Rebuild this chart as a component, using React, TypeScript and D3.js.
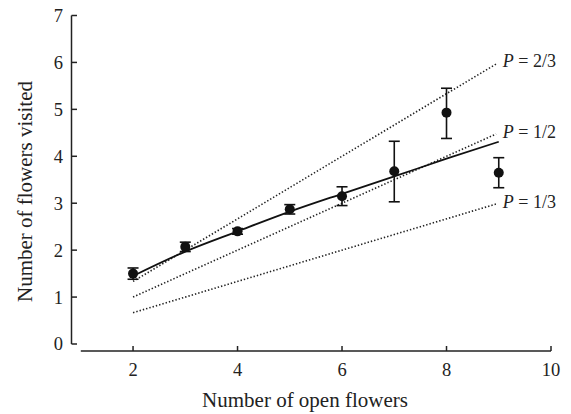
import React, { useEffect, useRef } from "react";
import * as d3 from "d3";

const xs = [2, 3, 4, 5, 6, 7, 8, 9];
const means = [1.5, 2.07, 2.4, 2.87, 3.15, 3.68, 4.93, 3.65];
const errLow = [1.38, 1.97, 2.34, 2.77, 2.95, 3.03, 4.38, 3.33];
const errHigh = [1.62, 2.17, 2.46, 2.97, 3.35, 4.32, 5.45, 3.97];
const fitValues = [1.45, 1.97, 2.4, 2.82, 3.2, 3.57, 3.95, 4.31];
const probLabels = ["2/3", "1/2", "1/3"];
const probValues = [2 / 3, 1 / 2, 1 / 3];
const refXRange = [2, 8.95];
const xTicks = [2, 4, 6, 8, 10];
const yTicks = [0, 1, 2, 3, 4, 5, 6, 7];

export default function App() {
  const ref = useRef<SVGSVGElement>(null);
  useEffect(() => {
    const svg = d3.select(ref.current);
    svg.selectAll("*").remove();
    const font = "'Liberation Serif', 'Times New Roman', serif";
    const x = d3.scaleLinear().domain([1, 10]).range([80.8, 551]);
    const y = d3.scaleLinear().domain([0, 7]).range([344, 15.5]);
    const xAxisY = 351;
    const yAxisX = 71.5;

    // y axis
    svg.append("line").attr("x1", yAxisX).attr("x2", yAxisX).attr("y1", y(0)).attr("y2", y(7))
      .attr("stroke", "#222").attr("stroke-width", 1.5);
    yTicks.forEach((t) => {
      svg.append("line").attr("x1", yAxisX).attr("x2", yAxisX + 5.5).attr("y1", y(t)).attr("y2", y(t))
        .attr("stroke", "#222").attr("stroke-width", 1.5);
      svg.append("text").attr("x", 63).attr("y", y(t)).attr("dy", "0.35em").attr("text-anchor", "end")
        .attr("font-family", font).attr("font-size", 18.5).attr("fill", "#222").text(t);
    });
    // x axis
    svg.append("line").attr("x1", x(1)).attr("x2", x(10)).attr("y1", xAxisY).attr("y2", xAxisY)
      .attr("stroke", "#222").attr("stroke-width", 1.5);
    xTicks.forEach((t) => {
      svg.append("line").attr("x1", x(t)).attr("x2", x(t)).attr("y1", xAxisY).attr("y2", xAxisY - 5)
        .attr("stroke", "#222").attr("stroke-width", 1.5);
      svg.append("text").attr("x", x(t)).attr("y", 376).attr("text-anchor", "middle")
        .attr("font-family", font).attr("font-size", 18.5).attr("fill", "#222").text(t);
    });
    svg.append("text").attr("x", 305).attr("y", 406.5).attr("text-anchor", "middle")
      .attr("font-family", font).attr("font-size", 21).attr("fill", "#222").text("Number of open flowers");
    svg.append("text").attr("transform", `translate(32,191.5) rotate(-90)`).attr("text-anchor", "middle")
      .attr("font-family", font).attr("font-size", 21).attr("fill", "#222").text("Number of flowers visited");

    // reference lines
    probValues.forEach((p, i) => {
      const line = d3.line<number>().x((v) => x(v)).y((v) => y(p * v));
      svg.append("path").attr("d", line(refXRange)).attr("fill", "none").attr("stroke", "#222")
        .attr("stroke-width", 1.6).attr("stroke-dasharray", "1.4,2");
      const t = svg.append("text").attr("x", x(9) + 4).attr("y", y(p * 9)).attr("dy", "0.27em")
        .attr("font-family", font).attr("font-size", 18).attr("fill", "#222");
      t.append("tspan").attr("font-style", "italic").text("P");
      t.append("tspan").text(" = " + probLabels[i]);
    });

    // fitted curve
    const fit = d3.line<number>().x((_, i) => x(xs[i])).y((v) => y(v)).curve(d3.curveMonotoneX);
    svg.append("path").attr("d", fit(fitValues)).attr("fill", "none").attr("stroke", "#111").attr("stroke-width", 1.8);

    // error bars + points
    xs.forEach((xv, i) => {
      const cx = x(xv);
      svg.append("line").attr("x1", cx).attr("x2", cx).attr("y1", y(errLow[i])).attr("y2", y(errHigh[i]))
        .attr("stroke", "#111").attr("stroke-width", 1.6);
      [errLow[i], errHigh[i]].forEach((e) => {
        svg.append("line").attr("x1", cx - 5.5).attr("x2", cx + 5.5).attr("y1", y(e)).attr("y2", y(e))
          .attr("stroke", "#111").attr("stroke-width", 1.6);
      });
      svg.append("circle").attr("cx", cx).attr("cy", y(means[i])).attr("r", 5).attr("fill", "#111");
    });
  }, []);
  return (
    <svg ref={ref} width={571} height={414}
      style={{ position: "absolute", left: 0, top: 0, background: "#fff" }} />
  );
}
